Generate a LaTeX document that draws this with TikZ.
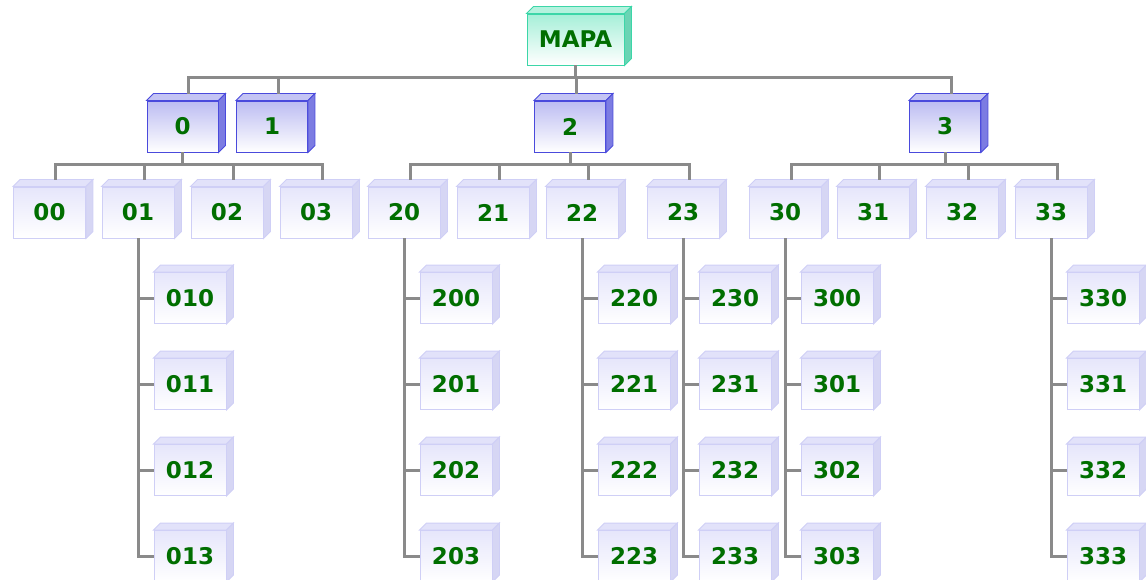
\documentclass[tikz,border=0pt]{standalone}
\usepackage{fontspec}
\setmainfont{DejaVu Sans}
\definecolor{txtgreen}{HTML}{006E00}
\definecolor{conncol}{HTML}{8A8A8A}
\definecolor{mapaborder}{HTML}{3CD6A8}
\definecolor{mapafill}{HTML}{A6EFD8}
\definecolor{mapatopf}{HTML}{B4F2DE}
\definecolor{mapaside}{HTML}{6AD4B4}
\definecolor{oneborder}{HTML}{4A4ADC}
\definecolor{onefill}{HTML}{BCBCF2}
\definecolor{onetopf}{HTML}{C4C4F4}
\definecolor{oneside}{HTML}{7C7CE2}
\definecolor{twoborder}{HTML}{CFCFF6}
\definecolor{twofill}{HTML}{E6E6FB}
\definecolor{twotopf}{HTML}{E2E2FA}
\definecolor{twoside}{HTML}{D6D6F4}
\tikzset{
  boxbase/.style={rectangle, inner sep=0pt, minimum height=51pt, minimum width=72pt,
    font=\fontsize{23}{23}\selectfont\bfseries, text=txtgreen, line width=0.9pt},
  mapabox/.style={boxbase, draw=mapaborder, top color=mapafill, bottom color=white, minimum width=97pt},
  mapaboxtop/.style={fill=mapatopf, draw=mapaborder, line width=0.9pt},
  mapaboxside/.style={fill=mapaside, draw=mapaborder, line width=0.9pt},
  onebox/.style={boxbase, draw=oneborder, top color=onefill, bottom color=white, minimum width=71pt},
  oneboxtop/.style={fill=onetopf, draw=oneborder, line width=0.9pt},
  oneboxside/.style={fill=oneside, draw=oneborder, line width=0.9pt},
  twobox/.style={boxbase, draw=twoborder, top color=twofill, bottom color=white},
  twoboxtop/.style={fill=twotopf, draw=twoborder, line width=0.9pt},
  twoboxside/.style={fill=twoside, draw=twoborder, line width=0.9pt},
  conn/.style={draw=conncol, line width=3pt},
}
\newcommand\cubeat[5]{%
  \node[#1] (#2) at (#3,#4) {#5};
  \filldraw[#1top] (#2.north west) -- ++(7,-7) -- ([shift={(7,-7)}]#2.north east) -- (#2.north east) -- cycle;
  \filldraw[#1side] (#2.north east) -- ++(7,-7) -- ([shift={(7,-7)}]#2.south east) -- (#2.south east) -- cycle;
  \coordinate (#2t) at ([shift={(6,-7)}]#2.north);
}
\begin{document}
\begin{tikzpicture}[x=1pt,y=-1pt]
\useasboundingbox (0,0) rectangle (1146,580);
% coordinates of buses
\coordinate (busA) at (0,78);
\coordinate (busB) at (0,165);
% nodes
\cubeat{mapabox}{MAPA}{575.5}{39.5}{MAPA}
\cubeat{onebox}{n0}{182.5}{126.5}{0}
\cubeat{onebox}{n1}{272}{126.5}{1}
\cubeat{onebox}{n2}{570}{126.5}{2}
\cubeat{onebox}{n3}{945}{126.5}{3}
\foreach \nm/\xx in {00/49.5,01/138,02/227,03/316,20/404,21/493,22/582,23/683,30/785,31/873,32/962,33/1051}{
  \cubeat{twobox}{n\nm}{\xx}{212.5}{\nm}
}
\foreach \pa/\xx in {01/138,20/404,22/582,23/683,30/785,33/1051}{
  \foreach \k/\yy in {0/298,1/384,2/470,3/556}{
    \pgfmathsetmacro\cx{\xx+52}
    \cubeat{twobox}{n\pa\k}{\cx}{\yy}{\pa\k}
  }
}
% top level connectors
\draw[conn] (MAPA.south) -- (MAPA.south |- busA);
\draw[conn] (n0t) |- (busA -| n3t) -- (n3t);
\draw[conn] (n1t) -- (n1t |- busA);
\draw[conn] (n2t) -- (n2t |- busA);
% level 2 connectors
\draw[conn] (n0.south) -- (n0.south |- busB);
\draw[conn] (n00t) |- (busB -| n03t) -- (n03t);
\draw[conn] (n01t) -- (n01t |- busB);
\draw[conn] (n02t) -- (n02t |- busB);
\draw[conn] (n2.south) -- (n2.south |- busB);
\draw[conn] (n20t) |- (busB -| n23t) -- (n23t);
\draw[conn] (n21t) -- (n21t |- busB);
\draw[conn] (n22t) -- (n22t |- busB);
\draw[conn] (n3.south) -- (n3.south |- busB);
\draw[conn] (n30t) |- (busB -| n33t) -- (n33t);
\draw[conn] (n31t) -- (n31t |- busB);
\draw[conn] (n32t) -- (n32t |- busB);
% children connectors
\foreach \pa in {01,20,22,23,30,33}{
  \draw[conn] (n\pa.south) |- (n\pa3.west);
  \draw[conn] (n\pa.south |- n\pa0.west) -- (n\pa0.west);
  \draw[conn] (n\pa.south |- n\pa1.west) -- (n\pa1.west);
  \draw[conn] (n\pa.south |- n\pa2.west) -- (n\pa2.west);
}
\end{tikzpicture}
\end{document}
